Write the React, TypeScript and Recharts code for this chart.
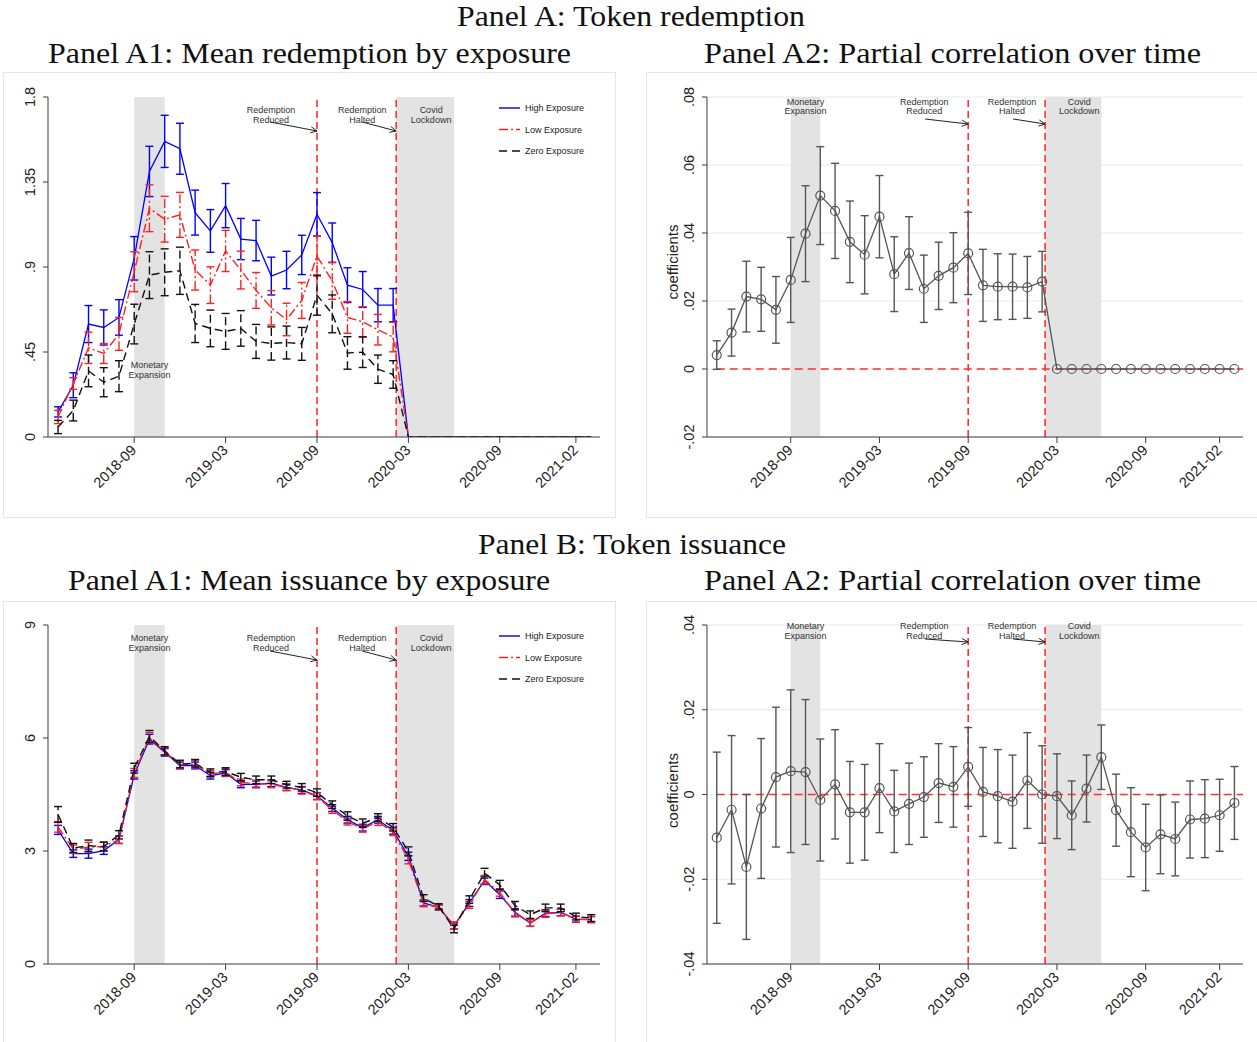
import React from 'react'
import { CartesianGrid, ErrorBar, Line, LineChart, ReferenceArea, ReferenceLine, XAxis, YAxis } from 'recharts'

// monthly observations, 2018-04 .. 2021-03
const months = [
  '2018-04', '2018-05', '2018-06', '2018-07', '2018-08', '2018-09', '2018-10', '2018-11', '2018-12',
  '2019-01', '2019-02', '2019-03', '2019-04', '2019-05', '2019-06', '2019-07', '2019-08', '2019-09',
  '2019-10', '2019-11', '2019-12', '2020-01', '2020-02', '2020-03', '2020-04', '2020-05', '2020-06',
  '2020-07', '2020-08', '2020-09', '2020-10', '2020-11', '2020-12', '2021-01', '2021-02', '2021-03',
]
const tickLabels = ['2018-09', '2019-03', '2019-09', '2020-03', '2020-09', '2021-02']

// events (month index on the x axis)
const monetaryExpansion = [5, 7]
const redemptionReducedAt = 17
const redemptionHaltedAt = 22.2 // early Feb 2020
const covidLockdown = [22.2, 26]

// Panel A1: mean redemption (and 95% CI half width)
const redemptionHigh = [0.133, 0.274, 0.598, 0.58, 0.633, 0.946, 1.406, 1.565, 1.526, 1.188, 1.091, 1.225, 1.048, 1.04, 0.852, 0.884, 0.964, 1.179, 1.029, 0.804, 0.781, 0.698, 0.698, 0, 0, 0, 0, 0, 0, 0, 0, 0, 0, 0, 0, 0]
const redemptionHighCi = [0.027, 0.066, 0.098, 0.093, 0.094, 0.115, 0.133, 0.138, 0.135, 0.119, 0.113, 0.117, 0.109, 0.107, 0.1, 0.099, 0.104, 0.115, 0.104, 0.092, 0.095, 0.088, 0.088, 0, 0, 0, 0, 0, 0, 0, 0, 0, 0, 0, 0, 0]
const redemptionLow = [0.106, 0.283, 0.472, 0.442, 0.546, 0.875, 1.211, 1.153, 1.176, 0.884, 0.804, 0.985, 0.884, 0.776, 0.684, 0.622, 0.723, 0.958, 0.826, 0.633, 0.61, 0.568, 0.529, 0, 0, 0, 0, 0, 0, 0, 0, 0, 0, 0, 0, 0]
const redemptionLowCi = [0.035, 0.031, 0.083, 0.053, 0.087, 0.106, 0.124, 0.121, 0.119, 0.106, 0.097, 0.109, 0.1, 0.095, 0.091, 0.086, 0.095, 0.106, 0.097, 0.084, 0.08, 0.081, 0.078, 0, 0, 0, 0, 0, 0, 0, 0, 0, 0, 0, 0, 0]
const redemptionZero = [0.053, 0.14, 0.35, 0.29, 0.322, 0.598, 0.857, 0.872, 0.88, 0.601, 0.575, 0.559, 0.575, 0.506, 0.495, 0.5, 0.493, 0.751, 0.652, 0.445, 0.449, 0.359, 0.331, 0, 0, 0, 0, 0, 0, 0, 0, 0, 0, 0, 0, 0]
const redemptionZeroCi = [0.035, 0.055, 0.084, 0.077, 0.082, 0.105, 0.124, 0.124, 0.125, 0.101, 0.097, 0.095, 0.094, 0.09, 0.088, 0.087, 0.087, 0.106, 0.1, 0.086, 0.081, 0.075, 0.073, 0, 0, 0, 0, 0, 0, 0, 0, 0, 0, 0, 0, 0]

// Panel A2 (redemption): partial correlation coefficients
const redemptionCoef = [0.0041, 0.0107, 0.0213, 0.0205, 0.0174, 0.0262, 0.0398, 0.051, 0.0465, 0.0374, 0.0336, 0.0448, 0.0279, 0.0341, 0.0236, 0.0274, 0.0298, 0.034, 0.0246, 0.0242, 0.0242, 0.024, 0.0257, 0, 0, 0, 0, 0, 0, 0, 0, 0, 0, 0, 0, 0]
const redemptionCoefCi = [0.0042, 0.0069, 0.0104, 0.0094, 0.0098, 0.0125, 0.0141, 0.0144, 0.014, 0.012, 0.0115, 0.0121, 0.011, 0.0107, 0.0099, 0.0099, 0.0103, 0.0121, 0.0106, 0.0097, 0.0096, 0.0091, 0.0089, 0, 0, 0, 0, 0, 0, 0, 0, 0, 0, 0, 0, 0]

// Panel B: mean issuance
const issuanceHigh = [3.56, 2.93, 2.93, 3.01, 3.3, 5.02, 5.97, 5.62, 5.27, 5.27, 5.0, 5.07, 4.77, 4.77, 4.8, 4.69, 4.62, 4.46, 4.14, 3.83, 3.62, 3.83, 3.54, 2.86, 1.62, 1.5, 1.02, 1.62, 2.22, 1.84, 1.37, 1.09, 1.35, 1.37, 1.19, 1.18]
const issuanceHighCi = [0.12, 0.1, 0.12, 0.1, 0.1, 0.11, 0.13, 0.1, 0.09, 0.09, 0.09, 0.09, 0.09, 0.09, 0.09, 0.08, 0.09, 0.09, 0.09, 0.09, 0.09, 0.09, 0.09, 0.11, 0.08, 0.07, 0.09, 0.09, 0.11, 0.1, 0.1, 0.09, 0.09, 0.09, 0.08, 0.08]
const issuanceLow = [3.64, 3.05, 3.1, 3.12, 3.3, 5.07, 6.01, 5.64, 5.29, 5.31, 5.05, 5.09, 4.82, 4.79, 4.77, 4.69, 4.6, 4.45, 4.09, 3.78, 3.59, 3.78, 3.5, 2.77, 1.6, 1.5, 1.02, 1.57, 2.24, 1.9, 1.35, 1.09, 1.33, 1.37, 1.19, 1.18]
const issuanceLowCi = [0.14, 0.11, 0.13, 0.11, 0.1, 0.12, 0.14, 0.1, 0.1, 0.1, 0.09, 0.1, 0.09, 0.09, 0.09, 0.09, 0.09, 0.09, 0.09, 0.09, 0.09, 0.1, 0.09, 0.11, 0.08, 0.07, 0.09, 0.09, 0.11, 0.1, 0.1, 0.09, 0.09, 0.09, 0.08, 0.08]
const issuanceZero = [3.97, 3.08, 3.14, 3.12, 3.43, 5.2, 6.04, 5.66, 5.31, 5.33, 5.08, 5.11, 4.96, 4.89, 4.89, 4.76, 4.69, 4.55, 4.23, 3.93, 3.74, 3.89, 3.63, 2.99, 1.75, 1.53, 0.93, 1.71, 2.41, 2.1, 1.55, 1.31, 1.49, 1.49, 1.26, 1.22]
const issuanceZeroCi = [0.21, 0.12, 0.15, 0.12, 0.11, 0.13, 0.16, 0.11, 0.1, 0.1, 0.1, 0.1, 0.1, 0.1, 0.1, 0.09, 0.1, 0.1, 0.1, 0.11, 0.11, 0.1, 0.1, 0.12, 0.09, 0.07, 0.1, 0.1, 0.13, 0.12, 0.11, 0.1, 0.1, 0.1, 0.09, 0.09]

// Panel A2 (issuance): partial correlation coefficients
const issuanceCoef = [-0.0102, -0.0036, -0.0171, -0.0033, 0.0041, 0.0055, 0.0053, -0.0013, 0.0024, -0.0042, -0.0042, 0.0015, -0.004, -0.0022, -0.0006, 0.0027, 0.0018, 0.0065, 0.0006, -0.0004, -0.0017, 0.0033, 0, -0.0004, -0.0049, 0.0014, 0.0088, -0.0037, -0.0089, -0.0125, -0.0094, -0.0105, -0.0059, -0.0057, -0.0049, -0.002]
const issuanceCoefCi = [0.0202, 0.0175, 0.0171, 0.0165, 0.0165, 0.0192, 0.0171, 0.0144, 0.0129, 0.012, 0.0113, 0.0105, 0.0097, 0.0096, 0.0095, 0.0093, 0.0095, 0.0093, 0.0105, 0.011, 0.011, 0.0113, 0.0115, 0.01, 0.0081, 0.0079, 0.0076, 0.0085, 0.0105, 0.0102, 0.0093, 0.0087, 0.0091, 0.0092, 0.0085, 0.0086]

const FONT_SANS = '"Liberation Sans", Arial, sans-serif'
const FONT_SERIF = '"Liberation Serif", "Times New Roman", serif'
const AXIS = '#3c3c3c'
const EVENT_RED = '#ff3030'
const SHADE = '#e3e3e3'
const BLUE = '#0000ff'
const RED = '#ff2020'
const BLACK = '#111111'
const COEF = '#555555'
const X_DOMAIN = [-0.66, 35.58]
const xTicks = tickLabels.map((l) => months.indexOf(l))

const meansRows = (hi: number[], hiCi: number[], lo: number[], loCi: number[], ze: number[], zeCi: number[]) =>
  months.map((m, i) => ({ x: i, month: m, high: hi[i], highCi: hiCi[i], low: lo[i], lowCi: loCi[i], zero: ze[i], zeroCi: zeCi[i] }))
const coefRows = (c: number[], ci: number[]) => months.map((m, i) => ({ x: i, month: m, coef: c[i], ci: ci[i] }))

const fmtNum = (v: number) => (v === 0 ? '0' : String(v).replace('0.', '.'))

function XTick(props: any) {
  const { x, y, payload } = props
  const ax = x + 3
  const ay = y + 8
  return (
    <text x={ax} y={ay} transform={`rotate(-45 ${ax} ${ay})`} textAnchor="end" fontSize={14.5} fontFamily={FONT_SANS} fill="#222">
      {months[payload.value]}
    </text>
  )
}

function YTick(props: any) {
  const { x, y, payload } = props
  const tx = x - 8
  return (
    <text x={tx} y={y} transform={`rotate(-90 ${tx} ${y})`} textAnchor="middle" fontSize={14.5} fontFamily={FONT_SANS} fill="#222">
      {fmtNum(payload.value)}
    </text>
  )
}

function Note({ x, y, lines }: { x: number; y: number; lines: string[] }) {
  return (
    <text x={x} y={y} textAnchor="middle" fontSize={9} fontFamily={FONT_SANS} fill="#333">
      {lines.map((l, i) => (
        <tspan key={l} x={x} dy={i === 0 ? 0 : 9.5}>
          {l}
        </tspan>
      ))}
    </text>
  )
}

function Arrow({ x1, y1, x2, y2 }: { x1: number; y1: number; x2: number; y2: number }) {
  const a = Math.atan2(y2 - y1, x2 - x1)
  const h = 7
  const p1 = `${x2 - h * Math.cos(a - 0.45)},${y2 - h * Math.sin(a - 0.45)}`
  const p2 = `${x2 - h * Math.cos(a + 0.45)},${y2 - h * Math.sin(a + 0.45)}`
  return (
    <g stroke="#222" strokeWidth={1} fill="none">
      <line x1={x1} y1={y1} x2={x2} y2={y2} />
      <polyline points={`${p1} ${x2},${y2} ${p2}`} />
    </g>
  )
}

interface Notes {
  textY: number
  monY: number
  arrowSy: number
  arrowEy: number
  reducedTx: number
  haltedTx: number
  reducedSx: number
  haltedSx: number
}

interface PanelProps {
  box: { left: number; top: number; width: number; height: number }
  marginTop: number
  marginRight: number
  yWidth: number
  xHeight: number
  yDomain: number[]
  yTicks: number[]
  notes: Notes
  data: any[]
  kind: 'means' | 'coef'
  yLabelDy?: number
}

function Panel({ box, marginTop, marginRight, yWidth, xHeight, yDomain, yTicks, notes, data, kind, yLabelDy }: PanelProps) {
  const isCoef = kind === 'coef'
  return (
    <div style={{ position: 'absolute', left: box.left, top: box.top }}>
      <LineChart width={box.width} height={box.height} data={data} margin={{ top: marginTop, right: marginRight, left: 0, bottom: 0 }}>
        {isCoef && <CartesianGrid vertical={false} stroke="#e3ebee" strokeWidth={1} />}
        <XAxis
          dataKey="x"
          type="number"
          domain={X_DOMAIN}
          ticks={xTicks}
          interval={0}
          allowDataOverflow
          height={xHeight}
          tickSize={6}
          tickMargin={0}
          tick={(p: any) => <XTick {...p} />}
          tickLine={{ stroke: AXIS }}
          axisLine={{ stroke: AXIS }}
        />
        <YAxis
          type="number"
          domain={yDomain}
          ticks={yTicks}
          interval={0}
          allowDataOverflow
          width={yWidth}
          tickSize={5}
          tickMargin={0}
          tick={(p: any) => <YTick {...p} />}
          tickLine={{ stroke: AXIS }}
          axisLine={{ stroke: AXIS }}
          label={
            isCoef
              ? (p: any) => {
                  const vb = p.viewBox
                  const tx = vb.x + 32
                  const ty = vb.y + vb.height / 2 + (yLabelDy ?? 0)
                  return (
                    <text x={tx} y={ty} transform={`rotate(-90 ${tx} ${ty})`} textAnchor="middle" fontSize={15} fontFamily={FONT_SANS} fill="#222">
                      coefficients
                    </text>
                  )
                }
              : undefined
          }
        />
        <ReferenceArea
          x1={monetaryExpansion[0]}
          x2={monetaryExpansion[1]}
          fill={SHADE}
          fillOpacity={1}
          stroke="none"
          label={(p: any) => {
            const vb = p.viewBox
            return <Note x={vb.x + vb.width / 2} y={vb.y + notes.monY} lines={['Monetary', 'Expansion']} />
          }}
        />
        <ReferenceArea
          x1={covidLockdown[0]}
          x2={covidLockdown[1]}
          fill={SHADE}
          fillOpacity={1}
          stroke="none"
          label={(p: any) => {
            const vb = p.viewBox
            return <Note x={vb.x + vb.width / 2 + 6} y={vb.y + notes.textY} lines={['Covid', 'Lockdown']} />
          }}
        />
        {isCoef && (
          <ReferenceLine
            segment={[
              { x: 0, y: 0 },
              { x: X_DOMAIN[1], y: 0 },
            ]}
            stroke={EVENT_RED}
            strokeWidth={1.6}
            strokeDasharray="8 5"
          />
        )}
        <ReferenceLine
          x={redemptionReducedAt}
          stroke={EVENT_RED}
          strokeWidth={1.6}
          strokeDasharray="7 4"
          label={(p: any) => {
            const vb = p.viewBox
            return (
              <g>
                <Note x={vb.x + notes.reducedTx} y={vb.y + notes.textY} lines={['Redemption', 'Reduced']} />
                <Arrow x1={vb.x + notes.reducedSx} y1={vb.y + notes.arrowSy} x2={vb.x} y2={vb.y + notes.arrowEy} />
              </g>
            )
          }}
        />
        <ReferenceLine
          x={redemptionHaltedAt}
          stroke={EVENT_RED}
          strokeWidth={1.6}
          strokeDasharray="7 4"
          label={(p: any) => {
            const vb = p.viewBox
            return (
              <g>
                <Note x={vb.x + notes.haltedTx} y={vb.y + notes.textY} lines={['Redemption', 'Halted']} />
                <Arrow x1={vb.x + notes.haltedSx} y1={vb.y + notes.arrowSy} x2={vb.x} y2={vb.y + notes.arrowEy} />
              </g>
            )
          }}
        />
        {isCoef ? (
          <Line
            dataKey="coef"
            stroke={COEF}
            strokeWidth={1.3}
            dot={{ r: 4.5, fill: 'none', stroke: COEF, strokeWidth: 1.2 }}
            activeDot={false}
            isAnimationActive={false}
          >
            <ErrorBar dataKey="ci" direction="y" width={4} stroke={COEF} strokeWidth={1.4} isAnimationActive={false} />
          </Line>
        ) : null}
        {!isCoef ? (
          <Line dataKey="high" stroke={BLUE} strokeWidth={1.3} dot={false} activeDot={false} isAnimationActive={false}>
            <ErrorBar dataKey="highCi" direction="y" width={4} stroke={BLUE} strokeWidth={1.4} isAnimationActive={false} />
          </Line>
        ) : null}
        {!isCoef ? (
          <Line dataKey="low" stroke={RED} strokeWidth={1.4} strokeDasharray="9 3 2 3" dot={false} activeDot={false} isAnimationActive={false}>
            <ErrorBar dataKey="lowCi" direction="y" width={4} stroke={RED} strokeWidth={1.4} strokeDasharray="9 3 2 3" isAnimationActive={false} />
          </Line>
        ) : null}
        {!isCoef ? (
          <Line dataKey="zero" stroke={BLACK} strokeWidth={1.4} strokeDasharray="8 5" dot={false} activeDot={false} isAnimationActive={false}>
            <ErrorBar dataKey="zeroCi" direction="y" width={4} stroke={BLACK} strokeWidth={1.4} strokeDasharray="8 4" isAnimationActive={false} />
          </Line>
        ) : null}
      </LineChart>
    </div>
  )
}

const legendItems = [
  { label: 'High Exposure', color: BLUE, dash: undefined },
  { label: 'Low Exposure', color: RED, dash: '9 3 2 3' },
  { label: 'Zero Exposure', color: BLACK, dash: '8 5' },
]

function ExposureLegend({ left, top }: { left: number; top: number }) {
  return (
    <svg width={110} height={60} style={{ position: 'absolute', left, top }}>
      {legendItems.map((it, i) => {
        const y = 6 + i * 21.5
        return (
          <g key={it.label}>
            <line x1={1} x2={22} y1={y} y2={y} stroke={it.color} strokeWidth={1.4} strokeDasharray={it.dash} />
            <text x={27} y={y + 3.2} fontSize={9} fontFamily={FONT_SANS} fill="#222">
              {it.label}
            </text>
          </g>
        )
      })}
    </svg>
  )
}

const titles = [
  { text: 'Panel A: Token redemption', x: 631, y: 26, w: 348 },
  { text: 'Panel A1: Mean redemption by exposure', x: 309.5, y: 63, w: 523 },
  { text: 'Panel A2: Partial correlation over time', x: 952.5, y: 63, w: 497 },
  { text: 'Panel B: Token issuance', x: 632, y: 554, w: 308 },
  { text: 'Panel A1: Mean issuance by exposure', x: 309, y: 590, w: 482 },
  { text: 'Panel A2: Partial correlation over time', x: 952.5, y: 590, w: 497 },
]

const frame = { position: 'absolute' as const, border: '1px solid #dfe7ea', boxSizing: 'border-box' as const }

export default function App() {
  const leftNotes = { reducedTx: -46, haltedTx: -34, reducedSx: -47, haltedSx: -34 }
  const rightNotes = { reducedTx: -44, haltedTx: -33, reducedSx: -43, haltedSx: -32 }
  return (
    <div style={{ position: 'absolute', left: 0, top: 0, width: 1257, height: 1042, background: '#fff', overflow: 'hidden' }}>
      <div style={{ ...frame, left: 3, top: 72, width: 613, height: 446 }} />
      <div style={{ ...frame, left: 646, top: 72, width: 620, height: 446 }} />
      <div style={{ ...frame, left: 3, top: 601, width: 613, height: 450 }} />
      <div style={{ ...frame, left: 646, top: 601, width: 620, height: 450 }} />

      <svg width={1257} height={1042} style={{ position: 'absolute', left: 0, top: 0 }}>
        <g fontFamily={FONT_SERIF} fontSize={29} fill="#111" textAnchor="middle">
          {titles.map((t) => (
            <text key={t.text + t.y} x={t.x} y={t.y} textLength={t.w} lengthAdjust="spacingAndGlyphs">
              {t.text}
            </text>
          ))}
        </g>
      </svg>

      <Panel
        box={{ left: 4, top: 72, width: 612, height: 446 }}
        marginTop={25}
        marginRight={16}
        yWidth={44}
        xHeight={81}
        yDomain={[0, 1.8]}
        yTicks={[0, 0.45, 0.9, 1.35, 1.8]}
        kind="means"
        data={meansRows(redemptionHigh, redemptionHighCi, redemptionLow, redemptionLowCi, redemptionZero, redemptionZeroCi)}
        notes={{ textY: 16, monY: 271, arrowSy: 25, arrowEy: 34, ...leftNotes }}
      />
      <Panel
        box={{ left: 646, top: 72, width: 611, height: 446 }}
        marginTop={25}
        marginRight={14}
        yWidth={61}
        xHeight={81}
        yDomain={[-0.02, 0.08]}
        yTicks={[-0.02, 0, 0.02, 0.04, 0.06, 0.08]}
        kind="coef"
        yLabelDy={-5}
        data={coefRows(redemptionCoef, redemptionCoefCi)}
        notes={{ textY: 7.5, monY: 7.5, arrowSy: 22, arrowEy: 27, ...rightNotes }}
      />
      <Panel
        box={{ left: 4, top: 601, width: 612, height: 441 }}
        marginTop={24}
        marginRight={16}
        yWidth={44}
        xHeight={78}
        yDomain={[0, 9]}
        yTicks={[0, 3, 6, 9]}
        kind="means"
        data={meansRows(issuanceHigh, issuanceHighCi, issuanceLow, issuanceLowCi, issuanceZero, issuanceZeroCi)}
        notes={{ textY: 16, monY: 16, arrowSy: 26, arrowEy: 35, ...leftNotes }}
      />
      <Panel
        box={{ left: 646, top: 601, width: 611, height: 441 }}
        marginTop={24}
        marginRight={14}
        yWidth={61}
        xHeight={78}
        yDomain={[-0.04, 0.04]}
        yTicks={[-0.04, -0.02, 0, 0.02, 0.04]}
        kind="coef"
        yLabelDy={-4}
        data={coefRows(issuanceCoef, issuanceCoefCi)}
        notes={{ textY: 4, monY: 4, arrowSy: 14, arrowEy: 17, ...rightNotes }}
      />

      <ExposureLegend left={498} top={102} />
      <ExposureLegend left={498} top={630} />
    </div>
  )
}
